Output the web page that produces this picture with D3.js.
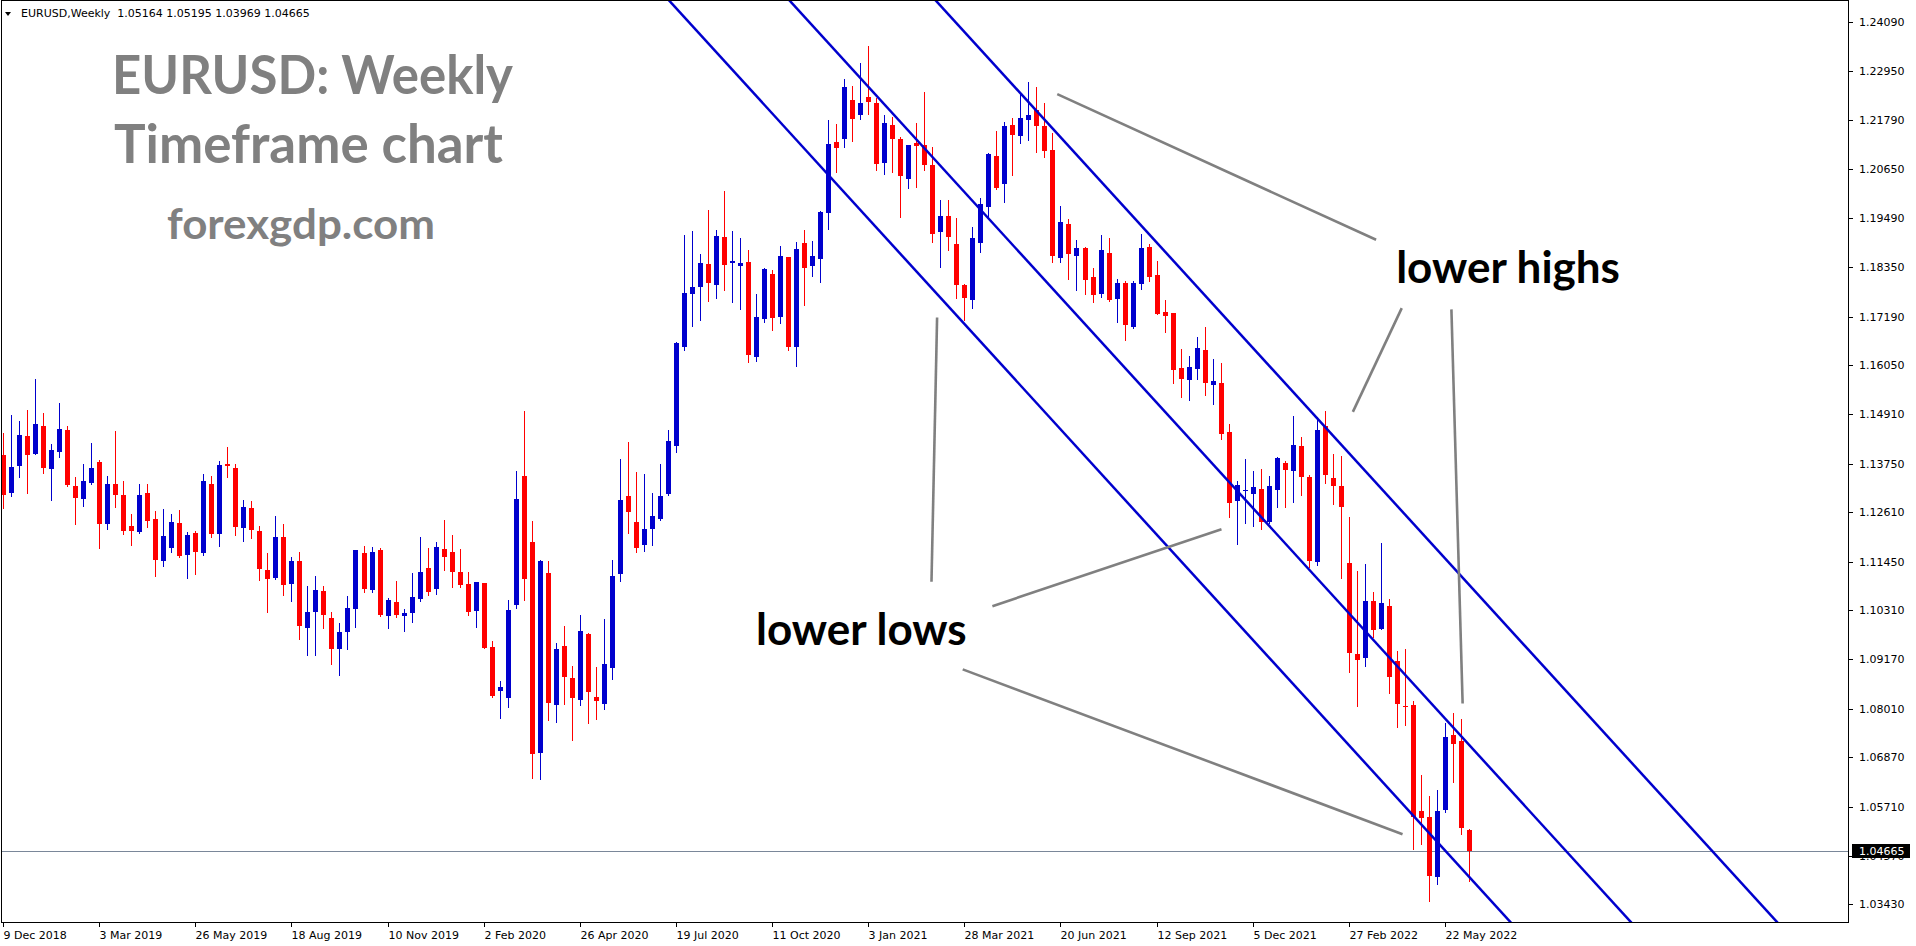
<!DOCTYPE html>
<html><head><meta charset="utf-8">
<script src="https://cdn.jsdelivr.net/npm/d3@7"></script>
<style>html,body{margin:0;padding:0;background:#fff;overflow:hidden}</style>
</head><body><svg id="c" width="1916" height="946"></svg>
<script>
// ---------------- data ----------------
const symbolInfo = "EURUSD,Weekly  1.05164 1.05195 1.03969 1.04665";
const titleLines = ["EURUSD: Weekly", "Timeframe chart", "forexgdp.com"];
const firstWeek = "2018-12-09"; // bar index 0

const open = [
1.1395,1.1306,1.1369,1.1439,1.1397,1.1463,1.1362,1.1402,1.1453,1.1322,
1.1292,1.1329,1.1378,1.1233,1.1327,1.1301,1.1229,1.1214,1.1306,1.1245,
1.1146,1.1177,1.1236,1.1161,1.1212,1.1165,1.1327,1.1210,1.1374,1.1364,
1.1224,1.1271,1.1217,1.1126,1.1107,1.1203,1.1093,1.1147,1.0990,1.1027,
1.1077,1.1013,1.0940,1.0980,1.1034,1.1165,1.1079,1.1172,1.1018,1.1051,
1.1018,1.1025,1.1058,1.1130,1.1081,1.1175,1.1168,1.1121,1.1093,1.1030,
1.1095,1.0945,1.0842,1.0826,1.1043,1.1346,1.1191,1.0697,1.1118,1.0810,
1.0947,1.0873,1.0822,1.0975,1.0829,1.0812,1.0897,1.1117,1.1299,1.1238,
1.1185,1.1222,1.1246,1.1304,1.1417,1.1647,1.1773,1.1789,1.1842,1.1794,
1.1905,1.1845,1.1838,1.1847,1.1625,1.1714,1.1819,1.1719,1.1858,1.1648,
1.1891,1.1838,1.1855,1.1962,1.2128,1.2136,1.2226,1.2192,1.2233,1.2219,
1.2079,1.2168,1.2135,1.2041,1.2126,1.2121,1.2074,1.1917,1.1954,1.1889,
1.1793,1.1758,1.1891,1.1976,1.2095,1.2030,1.2168,1.2142,1.2179,1.2203,
1.2165,1.2109,1.1856,1.1936,1.1861,1.1880,1.1812,1.1772,1.1868,1.1760,
1.1798,1.1695,1.1795,1.1882,1.1816,1.1730,1.1727,1.1598,1.1571,1.1596,
1.1642,1.1559,1.1563,1.1448,1.1287,1.1310,1.1304,1.1315,1.1238,1.1313,
1.1376,1.1357,1.1416,1.1343,1.1144,1.1463,1.1341,1.1322,1.1142,1.0929,
1.0919,1.1053,1.0987,1.1041,1.0912,1.0807,1.0809,1.0561,1.0547,1.0406,
1.0563,1.0739,1.0725,1.05164];

const high = [
1.1447,1.1489,1.1474,1.1500,1.1573,1.1493,1.1421,1.1517,1.1463,1.1343,
1.1374,1.1423,1.1383,1.1346,1.1451,1.1334,1.1257,1.1327,1.1327,1.1264,
1.1268,1.1257,1.1266,1.1214,1.1217,1.1350,1.1346,1.1381,1.1414,1.1374,
1.1289,1.1287,1.1229,1.1165,1.1252,1.1233,1.1156,1.1168,1.1088,1.1111,
1.1088,1.1027,1.1001,1.1065,1.1172,1.1182,1.1180,1.1177,1.1060,1.1100,
1.1034,1.1119,1.1203,1.1177,1.1191,1.1243,1.1208,1.1175,1.1121,1.1097,
1.1095,1.0959,1.0865,1.1055,1.1357,1.1498,1.1240,1.1149,1.1147,1.0954,
1.0994,1.0900,1.1020,1.0978,1.0898,1.1011,1.1149,1.1386,1.1425,1.1355,
1.1350,1.1306,1.1374,1.1453,1.1660,1.1910,1.1919,1.1866,1.1969,1.1922,
1.2013,1.1919,1.1903,1.1875,1.1772,1.1833,1.1828,1.1884,1.1858,1.1894,
1.1922,1.1896,1.1966,1.2179,1.2170,1.2276,1.2259,1.2313,1.2353,1.2231,
1.2191,1.2186,1.2140,1.2121,1.2172,1.2245,1.2116,1.1992,1.1992,1.1950,
1.1795,1.1929,1.1997,1.2102,1.2154,1.2175,1.2184,1.2243,1.2268,1.2257,
1.2219,1.2149,1.1978,1.1948,1.1898,1.1882,1.1833,1.1910,1.1903,1.1807,
1.1802,1.1802,1.1912,1.1889,1.1849,1.1758,1.1727,1.1643,1.1627,1.1671,
1.1695,1.1620,1.1610,1.1467,1.1334,1.1386,1.1357,1.1362,1.1346,1.1390,
1.1381,1.1486,1.1437,1.1348,1.1484,1.1498,1.1397,1.1393,1.1250,1.1123,
1.1140,1.1074,1.1189,1.1058,1.0936,1.0940,1.0819,1.0645,1.0596,1.0610,
1.0767,1.0790,1.0776,1.05195];

const low = [
1.1271,1.1299,1.1343,1.1306,1.1397,1.1353,1.1289,1.1390,1.1322,1.1233,
1.1275,1.1327,1.1177,1.1221,1.1273,1.1210,1.1184,1.1212,1.1226,1.1111,
1.1135,1.1168,1.1156,1.1107,1.1116,1.1161,1.1203,1.1182,1.1343,1.1207,
1.1193,1.1200,1.1102,1.1027,1.1105,1.1067,1.1053,1.0964,1.0926,1.0926,
1.0990,1.0905,1.0880,1.0940,1.0992,1.1074,1.1074,1.1018,1.0990,1.1016,
1.0983,1.1004,1.1053,1.1067,1.1069,1.1126,1.1086,1.1086,1.1020,1.0992,
1.0943,1.0829,1.0779,1.0805,1.1037,1.1055,1.0639,1.0636,1.0775,1.0770,
1.0812,1.0728,1.0810,1.0768,1.0777,1.0800,1.0871,1.1100,1.1213,1.1168,
1.1171,1.1185,1.1243,1.1301,1.1403,1.1641,1.1698,1.1712,1.1756,1.1763,
1.1782,1.1754,1.1737,1.1613,1.1616,1.1707,1.1688,1.1705,1.1641,1.1604,
1.1747,1.1815,1.1801,1.1925,1.2058,1.2117,1.2131,1.2183,1.2193,1.2062,
1.2053,1.2058,1.1952,1.2020,1.2022,1.2062,1.1894,1.1835,1.1875,1.1762,
1.1711,1.1739,1.1870,1.1952,1.2018,1.1987,1.2051,1.2126,1.2133,1.2104,
1.2093,1.1847,1.1847,1.1807,1.1781,1.1772,1.1753,1.1765,1.1756,1.1706,
1.1664,1.1692,1.1784,1.1802,1.1725,1.1683,1.1563,1.1530,1.1524,1.1573,
1.1535,1.1514,1.1432,1.1249,1.1186,1.1236,1.1229,1.1222,1.1236,1.1273,
1.1273,1.1285,1.1301,1.1133,1.1137,1.1329,1.1280,1.1107,1.0887,1.0807,
1.0901,1.0969,1.0987,1.0837,1.0758,1.0762,1.0472,1.0484,1.0350,1.0390,
1.0558,1.0629,1.0507,1.03969];

const close = [
1.1301,1.1367,1.1442,1.1395,1.1467,1.1364,1.1407,1.1456,1.1325,1.1294,
1.1334,1.1364,1.1233,1.1327,1.1301,1.1217,1.1217,1.1301,1.1240,1.1149,
1.1205,1.1238,1.1158,1.1207,1.1168,1.1334,1.1210,1.1371,1.1369,1.1226,
1.1273,1.1219,1.1128,1.1104,1.1203,1.1090,1.1147,1.0994,1.1027,1.1079,
1.1020,1.0940,1.0980,1.1036,1.1172,1.1081,1.1168,1.1020,1.1055,1.1020,
1.1025,1.1062,1.1121,1.1074,1.1179,1.1156,1.1121,1.1090,1.1027,1.1097,
1.0944,1.0831,1.0851,1.1032,1.1292,1.1104,1.0695,1.1147,1.0815,1.0940,
1.0876,1.0826,1.0983,1.0840,1.0819,1.0905,1.1111,1.1289,1.1262,1.1178,
1.1222,1.1252,1.1299,1.1428,1.1657,1.1774,1.1788,1.1844,1.1798,1.1908,
1.1840,1.1849,1.1844,1.1630,1.1718,1.1830,1.1716,1.1861,1.1648,1.1877,
1.1833,1.1861,1.1964,1.2123,1.2115,1.2257,1.2183,1.2219,1.2222,1.2076,
1.2172,1.2135,1.2048,1.2121,1.2119,1.2074,1.1912,1.1954,1.1905,1.1793,
1.1762,1.1903,1.1983,1.2100,1.2020,1.2165,1.2144,1.2184,1.2191,1.2165,
1.2107,1.1861,1.1941,1.1866,1.1880,1.1805,1.1770,1.1875,1.1758,1.1798,
1.1699,1.1798,1.1880,1.1812,1.1725,1.1720,1.1594,1.1573,1.1601,1.1645,
1.1563,1.1568,1.1444,1.1282,1.1324,1.1313,1.1320,1.1238,1.1322,1.1388,
1.1360,1.1418,1.1343,1.1147,1.1453,1.1348,1.1322,1.1273,1.0931,1.0915,
1.1053,1.0985,1.1048,1.0875,1.0812,1.0805,1.0547,1.0544,1.0409,1.0561,
1.0734,1.0718,1.0521,1.04665];

const dateTickLabels = ["9 Dec 2018","3 Mar 2019","26 May 2019","18 Aug 2019","10 Nov 2019",
  "2 Feb 2020","26 Apr 2020","19 Jul 2020","11 Oct 2020","3 Jan 2021","28 Mar 2021",
  "20 Jun 2021","12 Sep 2021","5 Dec 2021","27 Feb 2022","22 May 2022"];
const dateTickStep = 12; // weeks between date labels

const priceTickLabels = ["1.24090","1.22950","1.21790","1.20650","1.19490","1.18350","1.17190",
  "1.16050","1.14910","1.13750","1.12610","1.11450","1.10310","1.09170","1.08010","1.06870",
  "1.05710","1.04570","1.03430"];
const lastPrice = 1.04665;

// parallel channel lines: two anchor points each [barIndex, price]
const channelLower  = [[100, 1.2113], [180, 1.0469]];
const channelMiddle = [[100, 1.2422], [180, 1.0778]];
const channelUpper  = [[120, 1.2386], [180, 1.1153]];

// grey annotation pointers [barIndex, price]
const pointerLines = [
  [[131.6, 1.2240], [171.4, 1.1899]],
  [[168.5, 1.1496], [174.6, 1.1739]],
  [[180.8, 1.1736], [182.2, 1.0813]],
  [[116.6, 1.1717], [115.9, 1.1098]],
  [[123.5, 1.1041], [152.1, 1.1221]],
  [[119.8, 1.0893], [174.7, 1.0507]]
];
const annotationTexts = ["lower highs", "lower lows"];
const annotationAnchors = [[173.9, 1.1798], [94.0, 1.0950]];

// ---------------- drawing ----------------
const W = 1916, H = 946;
const plot = {left: 2, top: 1, right: 1848, bottom: 922};
const svg = d3.select("#c");
svg.append("rect").attr("width", W).attr("height", H).attr("fill", "#fff");

const x = d3.scaleLinear().domain([0, 180]).range([3, 1445]);
const y = d3.scaleLinear().domain([1.0343, 1.2409]).range([904.2, 22]);

svg.append("clipPath").attr("id", "pc").append("rect")
  .attr("x", plot.left).attr("y", plot.top)
  .attr("width", plot.right - plot.left).attr("height", plot.bottom - plot.top);

const g = svg.append("g").attr("clip-path", "url(#pc)");

// last price line
const yLast = Math.round(y(lastPrice)) + 0.5;
g.append("line").attr("x1", plot.left).attr("x2", plot.right)
  .attr("y1", yLast).attr("y2", yLast).attr("stroke", "#7a8799").attr("stroke-width", 1);

// candles
const bars = d3.range(open.length).map(i => ({i, o: open[i], h: high[i], l: low[i], c: close[i]}));
const BULL = "#0000cd", BEAR = "#ff0000";
const cg = g.append("g");
bars.forEach(b => {
  const cx = Math.round(x(b.i));
  const col = b.c >= b.o ? BULL : BEAR;
  cg.append("line").attr("x1", cx + 0.5).attr("x2", cx + 0.5)
    .attr("y1", Math.round(y(b.h))).attr("y2", Math.round(y(b.l)) + 1)
    .attr("stroke", col).attr("stroke-width", 1);
  const yt = Math.round(y(Math.max(b.o, b.c)));
  const yb = Math.round(y(Math.min(b.o, b.c)));
  cg.append("rect").attr("x", cx - 2).attr("y", yt)
    .attr("width", 5).attr("height", Math.max(1, yb - yt)).attr("fill", col);
});

// channel lines (extended as rays)
function extendLine(pts, i0, i1) {
  const [[a, pa], [b, pb]] = pts;
  const k = (pb - pa) / (b - a);
  return [[i0, pa + k * (i0 - a)], [i1, pa + k * (i1 - a)]];
}
const lineGen = d3.line().x(d => x(d[0])).y(d => y(d[1]));
[channelLower, channelMiddle, channelUpper].forEach(L => {
  g.append("path").attr("d", lineGen(extendLine(L, 40, 260)))
    .attr("fill", "none").attr("stroke", "#0000cd").attr("stroke-width", 2.5);
});

// pointer lines
pointerLines.forEach(L => {
  g.append("path").attr("d", lineGen(L)).attr("fill", "none")
    .attr("stroke", "#808080").attr("stroke-width", 2.6);
});

// annotation texts
annotationTexts.forEach((t, k) => {
  svg.append("text").attr("x", x(annotationAnchors[k][0])).attr("y", y(annotationAnchors[k][1]))
    .attr("font-family", "Lato").attr("font-weight", 700).attr("font-size", 44)
    .attr("fill", "#000").text(t);
});

// frame
svg.append("rect").attr("x", 1.5).attr("y", 0.5).attr("width", 1847).attr("height", 922)
  .attr("fill", "none").attr("stroke", "#000").attr("stroke-width", 1);

// price axis
const axFont = "DejaVu Sans";
const boxTop = yLast - 7.5, boxBottom = yLast + 6.5;
svg.append("clipPath").attr("id", "belowBox").append("rect")
  .attr("x", 1850).attr("y", boxBottom).attr("width", 66).attr("height", 20);
priceTickLabels.forEach(lbl => {
  const yy = Math.round(y(+lbl)) + 0.5;
  svg.append("line").attr("x1", 1849).attr("x2", 1853).attr("y1", yy).attr("y2", yy)
    .attr("stroke", "#000");
  const hidden = yy - 6 < boxBottom && yy + 6 > boxTop; // label partly covered by price box
  const t = svg.append("text").attr("x", 1859).attr("y", yy).attr("dy", "0.36em")
    .attr("font-family", axFont).attr("font-size", 11).attr("fill", "#000").text(lbl);
  if (hidden) t.attr("clip-path", "url(#belowBox)");
});
// last price box
svg.append("rect").attr("x", 1852).attr("y", boxTop).attr("width", 58).attr("height", 14)
  .attr("fill", "#000");
svg.append("text").attr("x", 1859).attr("y", yLast).attr("dy", "0.36em")
  .attr("font-family", axFont).attr("font-size", 11).attr("fill", "#fff").text(lastPrice.toFixed(5));

// date axis
dateTickLabels.forEach((lbl, k) => {
  const xx = Math.round(x(k * dateTickStep)) + 0.5;
  svg.append("line").attr("x1", xx).attr("x2", xx).attr("y1", plot.bottom + 1).attr("y2", plot.bottom + 5)
    .attr("stroke", "#000");
  svg.append("text").attr("x", xx).attr("y", 939)
    .attr("font-family", axFont).attr("font-size", 11).attr("fill", "#000").text(lbl);
});

// header
svg.append("path").attr("d", "M5,12 L11,12 L8,16 Z").attr("fill", "#000");
svg.append("text").attr("x", 21).attr("y", 17).attr("font-family", axFont).attr("font-size", 11)
  .attr("fill", "#000").style("white-space", "pre").text(symbolInfo);

// titles
const titleSpec = [
  {x: 112, y: 94, size: 54, len: 401},
  {x: 114, y: 163, size: 54, len: 389},
  {x: 167, y: 239, size: 42, len: 268}
];
titleLines.forEach((t, k) => {
  const s = titleSpec[k];
  svg.append("text").attr("x", s.x).attr("y", s.y)
    .attr("font-family", "Lato").attr("font-weight", 700).attr("font-size", s.size)
    .attr("textLength", s.len).attr("lengthAdjust", "spacingAndGlyphs")
    .attr("fill", "#808080").text(t);
});
</script>
</body></html>
